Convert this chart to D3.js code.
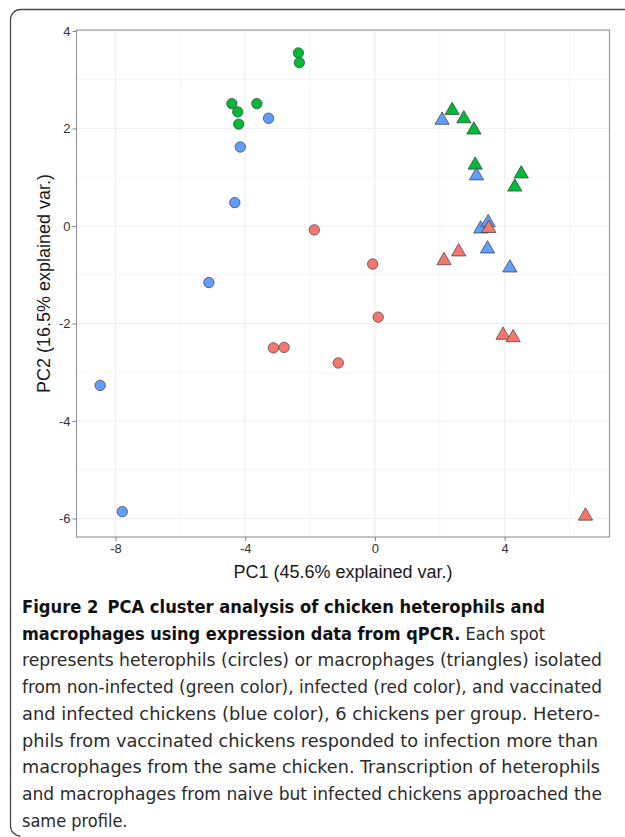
<!DOCTYPE html>
<html lang="en">
<head>
<meta charset="utf-8">
<title>PCA cluster analysis of chicken heterophils and macrophages</title>
<style>
  body { margin: 0; background: #fff; }
  svg { display: block; }
  .tick text { font-family: "Liberation Sans", Arial, sans-serif; font-size: 13px; fill: #333; }
  .axis-title { font-family: "Liberation Sans", Arial, sans-serif; font-size: 18px; fill: #1a1a1a; }
  .caption { font-family: "DejaVu Sans Condensed", sans-serif; font-size: 18px; fill: #2b2b2b; }
  .caption .b { font-weight: bold; fill: #111; }
</style>
</head>
<body>
<script src="https://d3js.org/d3.v7.min.js"></script>
<script>
// colours: non-infected (green), infected (red), vaccinated + infected (blue)
var groupColors = { nonInf: "#00BA38", inf: "#F8766D", vac: "#619CFF" };

// heterophils (circles)
var hetNonInfX = [-4.41, -4.23, -4.20, -3.64, -2.36, -2.33];
var hetNonInfY = [2.51, 2.34, 2.09, 2.51, 3.55, 3.35];
var hetVacX = [-3.28, -4.15, -4.32, -5.12, -8.47, -7.79];
var hetVacY = [2.21, 1.62, 0.48, -1.16, -3.27, -5.86];
var hetInfX = [-1.87, -0.07, 0.10, -3.13, -2.80, -1.13];
var hetInfY = [-0.08, -0.78, -1.87, -2.50, -2.49, -2.81];

// macrophages (triangles)
var macNonInfX = [2.38, 2.74, 3.05, 3.09, 4.51, 4.31];
var macNonInfY = [2.37, 2.20, 1.97, 1.25, 1.07, 0.80];
var macVacX = [2.07, 3.13, 3.26, 3.49, 3.47, 4.16];
var macVacY = [2.17, 1.03, -0.06, 0.07, -0.47, -0.86];
var macInfX = [3.51, 2.13, 2.58, 3.95, 4.26, 6.49];
var macInfY = [-0.05, -0.71, -0.53, -2.24, -2.29, -5.95];

var xTicks = [-8, -4, 0, 4];
var yTicks = [-6, -4, -2, 0, 2, 4];
var xMinor = [-6, -2, 2, 6];
var yMinor = [-5, -3, -1, 1, 3];

var w = 625, h = 837;
// panel edges (note: "top" is taken by window.top, so prefix them)
var pLeft = 76.5, pRight = 609.5, pTop = 30, pBottom = 537;

var svg = d3.select("body").append("svg")
    .attr("width", w)
    .attr("height", h);

// card frame (rounded top-left corner)
svg.append("path")
    .attr("d", "M625,9.5 H20.5 A10,10 0 0 0 10.5,19.5 V826 A10,10 0 0 0 20.5,836")
    .attr("fill", "none")
    .attr("stroke", "#4a4a4a")
    .attr("stroke-width", 1.3);

var x = d3.scaleLinear().domain([-9.2, 7.23]).range([pLeft, pRight]);
var y = d3.scaleLinear().domain([-6.38, 4.02]).range([pBottom, pTop]);

var grid = svg.append("g");
grid.selectAll(".vminor").data(xMinor.filter(function(d) { return x(d) < pRight; })).enter()
    .append("line")
    .attr("x1", function(d) { return x(d); }).attr("x2", function(d) { return x(d); })
    .attr("y1", pTop).attr("y2", pBottom)
    .attr("stroke", "#f4f4f4").attr("stroke-width", 1);
grid.selectAll(".hminor").data(yMinor).enter()
    .append("line")
    .attr("y1", function(d) { return y(d); }).attr("y2", function(d) { return y(d); })
    .attr("x1", pLeft).attr("x2", pRight)
    .attr("stroke", "#f4f4f4").attr("stroke-width", 1);
grid.selectAll(".vmajor").data(xTicks).enter()
    .append("line")
    .attr("x1", function(d) { return x(d); }).attr("x2", function(d) { return x(d); })
    .attr("y1", pTop).attr("y2", pBottom)
    .attr("stroke", "#efefef").attr("stroke-width", 1.2);
grid.selectAll(".hmajor").data(yTicks).enter()
    .append("line")
    .attr("y1", function(d) { return y(d); }).attr("y2", function(d) { return y(d); })
    .attr("x1", pLeft).attr("x2", pRight)
    .attr("stroke", "#efefef").attr("stroke-width", 1.2);

// points
function pts(xs, ys) {
    return xs.map(function(d, i) { return { x: d, y: ys[i] }; });
}

var circleSets = [
    [pts(hetNonInfX, hetNonInfY), groupColors.nonInf],
    [pts(hetVacX, hetVacY), groupColors.vac],
    [pts(hetInfX, hetInfY), groupColors.inf]
];
var triSets = [
    [pts(macNonInfX, macNonInfY), groupColors.nonInf],
    [pts(macVacX, macVacY), groupColors.vac],
    [pts(macInfX, macInfY), groupColors.inf]
];

var marks = svg.append("g");
circleSets.forEach(function(s) {
    marks.selectAll(null).data(s[0]).enter()
        .append("circle")
        .attr("cx", function(d) { return x(d.x); })
        .attr("cy", function(d) { return y(d.y); })
        .attr("r", 5.2)
        .attr("fill", s[1])
        .attr("stroke", "#3a3a3a")
        .attr("stroke-width", 0.7);
});
var tri = d3.symbol().type(d3.symbolTriangle).size(88);
triSets.forEach(function(s) {
    marks.selectAll(null).data(s[0]).enter()
        .append("path")
        .attr("d", tri)
        .attr("transform", function(d) { return "translate(" + x(d.x) + "," + y(d.y) + ")"; })
        .attr("fill", s[1])
        .attr("stroke", "#3a3a3a")
        .attr("stroke-width", 0.7);
});

// panel border
svg.append("rect")
    .attr("x", pLeft).attr("y", pTop)
    .attr("width", pRight - pLeft).attr("height", pBottom - pTop)
    .attr("fill", "none")
    .attr("stroke", "#9a9a9a")
    .attr("stroke-width", 1.2);

// axes
var xAxis = svg.append("g")
    .attr("transform", "translate(0," + pBottom + ")")
    .call(d3.axisBottom(x).tickValues(xTicks).tickSize(4).tickPadding(3)
        .tickFormat(function(d) { return String(d); }));
var yAxis = svg.append("g")
    .attr("transform", "translate(" + pLeft + ",0)")
    .call(d3.axisLeft(y).tickValues(yTicks).tickSize(4).tickPadding(2)
        .tickFormat(function(d) { return String(d); }));
[xAxis, yAxis].forEach(function(a) {
    a.select(".domain").remove();
    a.selectAll(".tick line").attr("stroke", "#8a8a8a").attr("stroke-width", 1.1);
});

svg.append("text")
    .attr("class", "axis-title")
    .attr("x", (pLeft + pRight) / 2)
    .attr("y", 578)
    .attr("text-anchor", "middle")
    .text("PC1 (45.6% explained var.)");

svg.append("text")
    .attr("class", "axis-title")
    .attr("transform", "translate(49.5," + (pTop + pBottom) / 2 + ") rotate(-90)")
    .attr("text-anchor", "middle")
    .text("PC2 (16.5% explained var.)");

// caption
var capX = 22, capY = 613, capStep = 26.7, capRight = 602;
var capLines = [
    { parts: [["Figure 2", true], ["PCA cluster analysis of chicken heterophils and", true, 9]], width: 523 },
    { parts: [["macrophages using expression data from qPCR.", true], [" Each spot", false]], width: 523 },
    { parts: [["represents heterophils (circles) or macrophages (triangles) isolated", false]], width: 580 },
    { parts: [["from non-infected (green color), infected (red color), and vaccinated", false]], width: 580 },
    { parts: [["and infected chickens (blue color), 6 chickens per group. Hetero-", false]], width: 578 },
    { parts: [["phils from vaccinated chickens responded to infection more than", false]], width: 576 },
    { parts: [["macrophages from the same chicken. Transcription of heterophils", false]], width: 578 },
    { parts: [["and macrophages from naive but infected chickens approached the", false]], width: 580 },
    { parts: [["same profile.", false]] }
];

capLines.forEach(function(line, i) {
    var t = svg.append("text")
        .attr("class", "caption")
        .attr("x", capX)
        .attr("y", capY + i * capStep)
        .attr("xml:space", "preserve");
    line.parts.forEach(function(p) {
        var ts = t.append("tspan").text(p[0]);
        if (p[1]) ts.attr("class", "b");
        if (p[2]) ts.attr("dx", p[2]);
    });
    if (line.width) {
        t.attr("textLength", line.width).attr("lengthAdjust", "spacingAndGlyphs");
    }
});
</script>
</body>
</html>
